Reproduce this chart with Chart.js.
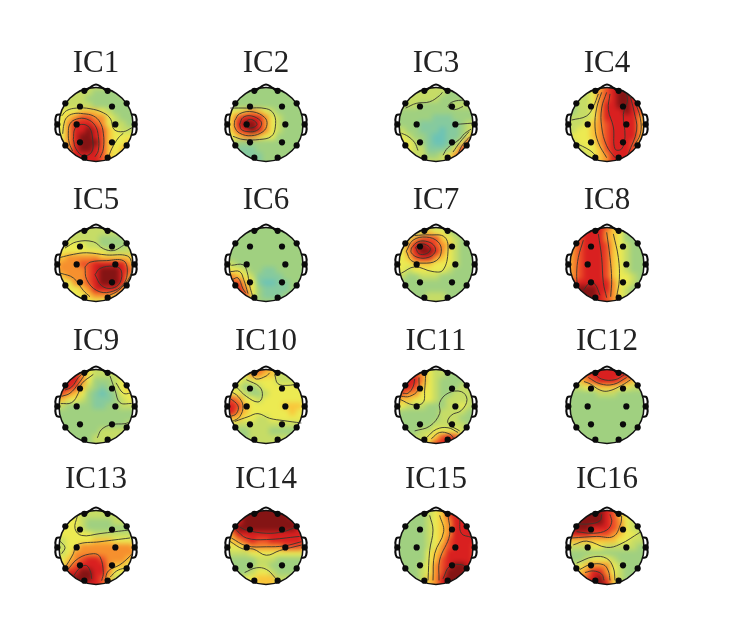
<!DOCTYPE html>
<html>
<head>
<meta charset="utf-8">
<title>IC scalp maps</title>
<script src="https://cdn.jsdelivr.net/npm/chart.js@4"></script>
<style>
html, body { margin: 0; padding: 0; background: #fff; }
#page { position: relative; width: 744px; height: 619px; overflow: hidden; }
#page canvas { position: absolute; }
</style>
</head>
<body>
<div id="page"></div>
<script>
/* 16 component scalp maps. Head units: radius about 111, centre 0,0 */

const TITLES = ["IC1","IC2","IC3","IC4","IC5","IC6","IC7","IC8","IC9","IC10","IC11","IC12","IC13","IC14","IC15","IC16"];

const ELECTRODE_X = [-35,35,-92,92,-48,48,-58,58,-116,116,-48,48,-92,92,-35,35];
const ELECTRODE_Y = [107,107,67,67,57,57,0,0,0,0,-57,-57,-67,-67,-106,-106];

const NOSE = [[-30,108],[-12,122],[0,127],[12,122],[30,108]];
const EAR_L = [[-108,32],[-118,30],[-122,15],[-120,0],[-122,-15],[-118,-30],[-108,-34]];
const EAR_R = [[108,32],[118,30],[122,15],[120,0],[122,-15],[118,-30],[108,-34]];

// colour levels, 0 = lowest (teal) .. 9 = highest (dark red)
const LEVEL_COLORS = ["#6cc3b6","#86ca9e","#a0d080","#c6dc66","#ecea52","#f9c53a","#f6902e","#ec4c28","#d92020","#841414"];

// grid columns run -120..120 and rows 120..-120 in steps of 20
const GRID_AXIS = [-120,-100,-80,-60,-40,-20,0,20,40,60,80,100,120];

const IC1_GRID = [
[3,3,3,3,3,3,3,3,3,3,3,3,3],[3,3,3,3,3,3,2,2,2,2,3,3,3],[3,3,3,3,3,2,2,2,2,2,2,3,3],[3,3,3,3,3,3,2,2,2,2,2,2,2],
[4,4,4,4,5,5,5,4,3,2,2,2,2],[4,4,5,6,7,7,6,6,4,3,2,2,2],[4,4,6,8,8,8,7,6,4,3,3,2,2],[4,4,6,8,8,9,8,7,5,4,3,3,3],
[4,4,6,8,9,9,8,7,5,4,4,4,4],[4,4,6,8,9,9,9,7,5,4,4,5,5],[4,5,6,8,9,9,8,7,5,4,5,6,6],[6,7,7,8,8,8,8,7,5,4,5,6,6],[8,8,8,8,8,8,8,7,5,5,5,5,5]];
const IC2_GRID = [
[2,2,2,2,2,2,2,2,2,2,2,2,2],[3,3,2,2,2,2,2,2,2,2,2,2,2],[2,2,2,2,2,2,2,2,2,2,2,2,2],[2,2,2,2,2,2,2,2,2,2,2,2,2],
[4,4,4,5,6,5,4,3,2,2,2,2,2],[4,5,7,8,8,8,6,4,3,2,2,2,2],[4,5,8,9,9,8,6,4,3,2,2,2,2],[4,5,7,8,9,8,6,4,3,2,2,2,2],
[4,4,5,6,6,5,4,4,2,2,2,2,2],[3,3,2,2,2,2,2,2,2,2,2,2,2],[2,2,1,1,1,2,2,2,2,2,2,2,2],[1,1,1,1,1,1,2,2,2,2,2,2,2],[1,1,1,1,1,1,2,2,2,2,2,2,2]];
const IC3_GRID = [
[3,3,3,3,3,3,3,3,3,2,2,2,2],[3,3,3,3,3,3,3,3,2,2,2,2,2],[3,3,3,3,3,3,3,2,2,2,2,3,3],[3,3,3,3,2,2,2,2,2,3,3,3,3],
[3,2,2,2,2,2,2,2,2,2,2,2,2],[2,2,2,2,2,2,1,1,1,2,2,2,2],[2,2,2,2,1,1,1,1,1,1,2,3,3],[3,3,2,2,1,1,1,0,1,1,2,3,4],
[3,4,3,2,2,1,0,0,1,1,2,4,7],[3,4,4,3,2,1,0,0,1,2,4,7,8],[3,4,4,3,3,1,1,1,2,4,7,8,8],[3,3,4,3,3,2,2,3,4,6,8,8,8],[3,3,3,3,3,3,3,3,4,6,8,8,8]];
const IC4_GRID = [
[2,2,3,3,4,5,7,8,8,8,8,8,8],[2,2,2,3,4,6,7,8,9,9,8,7,7],[2,2,3,3,4,6,7,8,9,9,8,7,6],[2,2,3,3,4,6,8,8,9,9,8,7,6],
[2,2,3,3,4,6,8,8,8,9,8,7,5],[3,3,3,3,4,6,8,8,8,8,8,6,5],[3,3,3,4,5,6,7,8,8,8,8,6,5],[3,3,4,4,5,6,7,8,8,8,8,6,5],
[3,4,4,4,5,6,7,8,8,8,8,6,5],[3,3,4,4,4,6,7,8,8,8,7,5,5],[3,3,3,4,4,5,7,8,8,8,7,6,5],[3,3,3,3,4,5,6,8,8,8,7,6,5],[3,3,3,3,4,5,6,8,8,8,7,6,5]];
const IC5_GRID = [
[3,3,3,3,3,3,3,3,3,3,3,3,3],[3,3,3,3,3,3,3,3,3,3,3,3,3],[3,3,3,3,3,3,3,2,2,2,2,3,3],[4,4,4,4,4,3,3,2,2,2,2,3,3],
[4,4,4,4,4,4,4,4,3,3,3,3,3],[5,5,6,6,6,6,6,5,5,5,5,5,4],[5,6,6,6,7,7,8,8,8,8,8,6,5],[5,6,6,6,6,7,8,9,9,9,8,7,5],
[4,5,6,6,6,7,8,9,9,9,8,6,5],[4,4,4,6,6,7,8,9,9,9,8,5,4],[4,4,4,4,5,6,8,8,8,8,6,5,4],[4,4,4,4,4,5,6,6,6,5,4,4,4],[4,4,4,4,4,4,4,4,4,4,4,4,4]];
const IC6_GRID = [
[2,2,2,2,2,2,2,2,2,2,2,2,2],[2,2,2,2,2,2,2,2,2,2,2,2,2],[2,2,2,2,2,2,2,2,2,2,2,2,2],[2,2,2,2,2,2,2,2,2,2,2,2,2],
[2,2,2,2,2,2,2,2,2,2,2,2,2],[2,2,2,2,2,2,2,2,2,2,2,2,2],[3,3,2,2,2,2,2,2,2,2,2,2,2],[4,4,4,3,2,2,1,1,2,2,2,2,2],
[6,6,5,4,3,1,1,1,1,2,2,2,2],[7,7,7,5,4,1,0,0,1,1,2,2,2],[8,8,8,6,4,2,1,1,1,1,2,2,2],[8,8,8,7,4,2,1,1,1,2,2,2,2],[8,8,7,6,3,2,2,2,2,2,2,2,2]];
const IC7_GRID = [
[3,3,3,3,3,3,3,3,3,2,2,2,2],[3,3,3,3,4,5,4,4,3,2,2,2,2],[3,3,4,6,7,7,7,5,4,3,2,2,2],[4,4,6,8,9,8,7,6,5,3,2,2,2],
[4,4,6,8,9,9,8,6,4,3,2,2,2],[4,4,5,7,8,8,6,5,4,3,2,2,2],[4,4,4,5,5,5,4,4,4,3,2,2,2],[4,4,3,4,4,4,4,4,3,2,2,2,2],
[3,3,2,2,3,3,3,2,2,2,2,2,2],[2,2,2,2,2,2,2,2,2,2,2,2,2],[2,2,2,2,2,2,2,2,2,2,2,2,2],[2,2,2,2,2,3,3,3,2,2,2,2,2],[2,2,2,2,2,3,3,3,2,2,2,2,2]];
const IC8_GRID = [
[5,6,7,8,8,8,7,5,4,3,2,2,2],[5,6,7,8,8,8,6,5,4,2,2,2,2],[5,6,7,8,8,8,6,5,4,2,2,2,2],[4,6,7,8,8,8,7,5,4,3,2,2,2],
[4,6,7,8,8,8,7,5,4,3,2,2,2],[4,6,7,8,8,8,7,5,4,3,2,2,2],[5,6,7,8,8,8,7,5,4,3,2,2,2],[5,6,7,8,8,8,7,5,4,3,2,2,2],
[5,6,7,8,8,8,7,5,4,4,3,2,2],[6,7,8,8,8,8,8,6,4,4,3,2,2],[7,8,9,9,9,8,8,6,4,3,2,2,2],[8,8,9,9,9,8,7,6,4,3,2,2,2],[8,8,9,9,9,8,7,6,4,3,2,2,2]];
const IC9_GRID = [
[6,7,7,6,5,4,3,3,3,3,3,3,3],[7,8,8,8,6,4,3,3,3,3,4,4,4],[8,8,8,8,6,4,2,2,2,3,4,5,5],[8,8,8,7,5,3,2,1,2,3,4,5,5],
[7,7,6,5,4,2,1,0,1,2,4,4,4],[5,5,4,4,3,2,1,1,1,2,3,4,4],[3,3,2,2,2,2,1,1,2,2,3,3,3],[2,2,2,2,2,2,2,2,2,2,2,2,2],
[2,2,2,2,2,2,2,2,2,2,2,2,2],[2,2,2,2,2,2,2,2,2,2,2,3,3],[2,2,2,2,2,2,2,3,3,3,3,3,3],[2,2,2,2,2,2,3,3,3,3,3,3,3],[2,2,2,2,2,2,3,3,3,3,3,3,3]];
const IC10_GRID = [
[3,3,3,3,6,7,6,5,4,3,3,3,3],[3,4,4,4,6,6,5,5,3,3,3,3,3],[3,4,4,3,4,4,4,4,3,3,3,3,3],[4,4,3,2,2,3,4,4,4,4,4,4,4],
[5,4,4,3,2,2,3,4,4,4,4,4,4],[7,7,6,4,4,3,4,4,4,4,4,4,4],[8,8,7,5,4,4,4,4,4,5,5,5,4],[8,8,6,5,4,4,4,4,4,4,5,4,4],
[5,5,5,4,4,3,3,4,4,4,4,4,4],[4,4,3,3,3,3,3,3,3,3,3,3,3],[2,2,2,2,3,3,3,2,2,2,2,2,2],[3,3,2,2,3,3,3,3,3,3,2,2,2],[3,3,2,2,3,3,3,3,3,3,2,2,2]];
const IC11_GRID = [
[4,5,6,6,5,4,3,3,3,3,3,3,3],[6,7,8,7,6,4,3,3,2,2,2,3,3],[8,8,8,8,6,4,3,2,2,2,2,3,3],[8,8,8,7,5,4,3,2,2,2,3,3,3],
[7,7,6,6,4,4,3,2,2,3,3,3,3],[6,5,5,4,4,4,3,2,3,3,3,3,3],[4,4,3,3,3,2,2,2,3,3,4,3,2],[3,2,2,2,2,2,2,3,3,3,3,2,2],
[2,2,2,2,2,2,2,3,3,3,2,2,2],[2,2,2,2,2,2,3,3,3,3,3,2,2],[2,2,2,2,3,3,4,4,4,4,3,3,2],[2,2,2,3,3,4,5,7,8,7,5,3,3],[2,2,2,3,3,5,7,8,8,8,6,4,3]];
const IC12_GRID = [
[5,6,7,8,8,8,8,8,8,8,7,6,5],[4,5,6,7,8,8,8,8,8,8,7,5,4],[3,4,5,6,7,8,8,8,7,6,5,4,3],[3,3,3,4,4,5,5,5,4,4,3,3,3],
[2,2,2,2,2,3,3,3,2,2,2,2,2],[2,2,2,2,2,2,2,2,2,2,2,2,2],[2,2,2,2,2,2,2,2,2,2,2,2,2],[2,2,2,2,2,2,2,2,2,2,2,2,2],
[2,2,2,2,2,2,2,2,2,2,2,2,2],[2,2,2,2,2,2,2,2,2,2,2,2,2],[2,2,2,2,2,2,2,2,2,2,2,2,2],[2,2,2,2,2,2,2,2,2,2,2,2,2],[2,2,2,2,2,2,2,2,2,2,2,2,2]];
const IC13_GRID = [
[4,4,4,4,4,3,3,3,3,3,3,4,4],[4,4,4,4,3,3,3,3,3,3,3,4,4],[4,4,4,4,3,2,2,2,2,3,3,3,3],[4,4,4,4,3,2,2,2,2,2,2,2,2],
[4,4,4,4,4,4,3,3,3,3,3,3,3],[3,3,4,4,4,4,5,5,5,4,4,4,4],[3,3,4,4,6,6,6,6,6,6,6,6,5],[4,3,4,6,6,6,6,6,6,6,6,6,6],
[4,4,5,6,7,8,8,7,6,6,6,5,5],[4,4,6,7,8,8,8,8,6,5,5,4,4],[5,6,8,8,9,9,8,8,6,4,4,3,3],[8,8,9,9,9,9,8,7,5,3,3,3,3],[8,9,9,9,9,8,8,7,5,4,3,3,3]];
const IC14_GRID = [
[7,8,8,8,9,9,9,9,9,8,8,8,7],[7,8,8,9,9,9,9,9,9,9,8,8,7],[8,8,8,9,9,9,9,9,9,9,9,8,7],[7,8,9,9,9,9,9,9,9,9,9,8,7],
[5,6,8,8,8,8,8,8,8,8,8,8,7],[4,5,6,7,8,7,7,8,8,8,8,8,7],[3,4,4,5,6,6,6,6,6,7,7,7,6],[3,3,3,3,4,4,4,4,4,4,4,4,4],
[2,2,2,2,2,3,3,3,2,2,2,2,2],[2,2,2,2,2,3,3,2,2,2,2,2,2],[3,3,2,2,3,4,4,3,2,2,2,2,2],[3,3,3,4,4,5,5,5,3,3,3,2,2],[3,3,3,4,4,5,5,5,4,3,3,3,3]];
const IC15_GRID = [
[2,2,2,3,3,3,4,5,7,8,8,8,8],[2,2,2,2,2,3,4,5,7,8,8,8,8],[2,2,2,2,2,3,4,5,6,8,8,8,8],[2,2,2,2,2,3,4,5,6,8,8,8,8],
[2,2,2,2,2,3,4,5,6,8,8,8,8],[2,2,2,2,2,3,4,5,7,8,8,8,8],[2,2,2,2,2,3,4,6,7,8,8,8,7],[2,2,2,2,2,4,5,6,8,8,8,8,7],
[2,2,2,2,2,4,5,7,8,8,8,8,7],[2,2,2,2,3,4,6,7,8,9,9,8,8],[2,2,2,2,3,4,6,7,9,9,9,8,8],[2,2,2,2,3,5,6,8,9,9,9,9,9],[2,2,2,2,3,5,6,8,9,9,9,9,9]];
const IC16_GRID = [
[8,8,9,9,9,9,8,7,5,4,4,3,3],[8,8,9,9,9,9,8,7,5,4,4,3,3],[8,8,9,9,9,9,8,7,6,4,3,3,3],[8,9,9,9,8,8,8,7,6,4,3,3,3],
[7,8,8,8,7,7,7,6,5,4,4,3,3],[5,5,5,5,5,5,5,5,4,4,3,3,3],[4,3,3,3,4,4,3,3,3,3,3,2,2],[2,2,2,2,2,2,2,2,2,2,2,2,2],
[2,2,2,3,4,4,4,3,2,2,2,2,2],[3,3,4,5,6,6,6,4,3,2,2,2,2],[3,3,5,6,8,8,6,4,3,2,2,2,2],[3,3,5,7,8,9,7,5,3,2,2,2,2],[4,5,7,8,9,9,8,5,3,3,3,3,3]];

// contour lines
const IC1_LINES = [
[[-103,27],[-88,44],[-58,52],[-18,50],[22,37],[44,17],[54,-16],[82,-23],[109,-10]],
[[-100,-30],[-96,2],[-88,22],[-68,34],[-38,34],[-8,27],[12,7],[22,-28],[22,-78],[12,-106]],
[[-70,-85],[-80,-60],[-83,-28],[-78,2],[-58,17],[-28,17],[-3,-3],[7,-38],[7,-83],[-3,-103]],
[[-68,-48],[-63,-13],[-43,0],[-20,-10],[-10,-48],[-13,-88],[-38,-100],[-60,-78],[-68,-48]],
[[37,-106],[47,-78],[67,-43],[82,-28]]];
const IC2_LINES = [
[[-107,52],[-59,52],[1,50],[24,32],[28,-8],[16,-38],[-19,-48],[-69,-48],[-99,-38]],
[[-94,12],[-79,34],[-39,40],[-4,22],[3,0],[-9,-23],[-44,-36],[-79,-28],[-94,-8],[-94,12]],
[[-79,0],[-69,22],[-44,27],[-17,12],[-14,-3],[-29,-20],[-54,-23],[-74,-16],[-79,0]],
[[-67,0],[-54,14],[-39,14],[-27,0],[-39,-10],[-54,-10],[-67,0]]];
const IC3_LINES = [
[[-91,52],[-59,67],[-19,72],[11,92],[19,102]],
[[89,72],[76,77],[46,70],[36,57],[39,54],[56,47],[81,57]],
[[59,0],[109,4]],
[[21,-98],[35,-75],[70,-48],[85,-30],[105,-15]],
[[51,-88],[71,-58],[99,-23]],
[[66,-93],[81,-63],[103,-38]],
[[-104,-28],[-84,-38],[-64,-58],[-54,-83]]];
const IC4_LINES = [
[[-106,14],[-61,27],[-41,57],[-26,97]],
[[-96,-58],[-51,-83],[-31,-103]],
[[-16,102],[-31,52],[-36,-8],[-26,-58],[-1,-106]],
[[-1,102],[-16,52],[-16,-8],[-1,-68],[24,-106]],
[[9,97],[4,47],[19,-8],[24,-78],[44,-78],[54,-38],[49,32],[61,72],[59,97]],
[[69,92],[81,42],[89,-18],[64,-93]],
[[84,72],[100,20],[100,-30],[80,-70]]];
const IC5_LINES = [
[[-93,52],[-58,72],[-8,72],[22,50],[52,44],[77,57],[90,67]],
[[-108,22],[-68,32],[-28,37],[32,30],[94,27],[107,2],[102,-38],[67,-83],[37,-100]],
[[-106,-28],[-68,-43],[-38,-83],[-18,-103]],
[[-33,-8],[-18,7],[32,12],[82,12],[94,-18],[82,-63],[42,-88],[2,-83],[-28,-48],[-33,-8]],
[[-3,-33],[12,-13],[52,-6],[75,-18],[72,-58],[47,-76],[17,-68],[-3,-33]]];
const IC6_LINES = [
[[-104,-3],[-69,-1],[-57,-23],[-49,-68],[-41,-98]],
[[-107,-23],[-79,-23],[-67,-48],[-54,-93]],
[[-101,-48],[-84,-43],[-69,-78],[-61,-90]]];
const IC7_LINES = [
[[-64,92],[-19,94],[26,87],[36,42],[21,-18],[-9,-23],[-64,-8],[-104,-28]],
[[-89,42],[-69,77],[-29,87],[6,72],[16,42],[1,12],[-39,4],[-74,12],[-89,42]],
[[-74,52],[-54,72],[-24,72],[-4,57],[-4,37],[-24,22],[-54,22],[-74,37],[-74,52]],
[[-61,54],[-44,65],[-24,59],[-17,47],[-29,34],[-51,34],[-61,54]]];
const IC8_LINES = [
[[-71,77],[-86,22],[-91,-28],[-89,-68]],
[[-26,97],[-16,22],[-11,-58],[-1,-106]],
[[-1,102],[9,22],[14,-48],[11,-103]],
[[19,97],[34,22],[37,-48],[29,-103]],
[[-71,-83],[-51,-58],[-36,-63],[-21,-98]]];
const IC9_LINES = [
[[-106,9],[-73,12],[-53,42],[-43,72],[-8,102]],
[[-103,32],[-78,42],[-53,72],[-33,102]],
[[-93,52],[-73,62],[-53,92],[-43,102]],
[[42,97],[57,52],[72,12],[107,9]],
[[60,75],[82,42],[104,42]],
[[4,-100],[17,-73],[47,-58],[87,-55],[97,-51]]];
const IC10_LINES = [
[[-59,85],[-19,62],[-11,32],[-24,14],[-59,32],[-89,62]],
[[26,102],[36,72],[66,67],[96,72]],
[[-44,102],[-29,87],[1,97],[11,107]],
[[-104,47],[-84,32],[-69,2],[-79,-33],[-101,-48]],
[[-109,27],[-84,2],[-89,-23],[-109,-33]],
[[-94,-48],[-54,-33],[-24,-23],[11,-38],[51,-45],[106,-53]]];
const IC11_LINES = [
[[-31,102],[-34,52],[-39,12],[-69,5],[-107,22]],
[[-51,92],[-54,52],[-79,32],[-104,32]],
[[-64,87],[-69,62],[-84,42],[-99,42]],
[[-64,-78],[-19,-63],[11,-23],[11,12],[36,42],[76,47],[93,22],[76,-13],[46,-28],[36,-53],[71,-78]],
[[-29,-100],[1,-73],[36,-68],[66,-83]],
[[-14,-103],[11,-83],[41,-88],[53,-101]]];
const IC12_LINES = [
[[-69,79],[-51,72],[-21,52],[4,49],[44,67],[71,85]],
[[-56,92],[-21,72],[19,70],[59,92]],
[[-41,107],[-16,87],[24,85],[54,102]]];
const IC13_LINES = [
[[-56,100],[-63,60],[-43,38],[12,44],[57,50],[97,55]],
[[-108,20],[-93,0],[-103,-20]],
[[-96,-70],[-68,-20],[-58,8],[12,18],[102,30]],
[[-88,-75],[-53,-35],[-8,-20],[12,-30],[22,-80],[17,-106]],
[[-68,-92],[-48,-65],[-28,-58],[-16,-80],[-13,-100]],
[[27,-105],[37,-75],[72,-55],[100,-30],[108,-20]],
[[42,-95],[62,-75],[87,-65]]];
const IC14_LINES = [
[[-79,65],[-59,55],[1,45],[51,50],[91,65]],
[[-89,55],[-59,30],[1,25],[101,35]],
[[-104,30],[-59,5],[1,2],[56,5],[106,18]],
[[-109,20],[-69,-5],[-39,-5],[1,-25],[41,-10],[108,8]],
[[-64,-80],[-29,-65],[1,-70],[26,-95],[31,-105]]];
const IC15_LINES = [
[[-19,102],[-9,55],[-19,-10],[-24,-105]],
[[11,102],[23,50],[-4,-20],[-9,-105]],
[[36,102],[41,40],[11,-40],[9,-105]],
[[71,92],[76,45],[106,32]],
[[21,-100],[41,-60],[76,-55],[93,-65]]];
const IC16_LINES = [
[[-91,75],[-51,75],[-21,85],[-16,105]],
[[-91,50],[-41,45],[-1,55],[14,80],[9,105]],
[[-106,30],[-31,35],[19,35],[41,75],[44,100]],
[[-101,8],[-61,20],[-1,0],[39,10],[99,48]],
[[-91,-50],[-41,-30],[-1,-35],[19,-65],[24,-105]],
[[-81,-70],[-51,-55],[-11,-55],[4,-75],[9,-105]],
[[-66,-80],[-41,-75],[-16,-85],[-9,-105]]];

const GRIDS = [IC1_GRID,IC2_GRID,IC3_GRID,IC4_GRID,IC5_GRID,IC6_GRID,IC7_GRID,IC8_GRID,IC9_GRID,IC10_GRID,IC11_GRID,IC12_GRID,IC13_GRID,IC14_GRID,IC15_GRID,IC16_GRID];
const LINES = [IC1_LINES,IC2_LINES,IC3_LINES,IC4_LINES,IC5_LINES,IC6_LINES,IC7_LINES,IC8_LINES,IC9_LINES,IC10_LINES,IC11_LINES,IC12_LINES,IC13_LINES,IC14_LINES,IC15_LINES,IC16_LINES];

// page layout
const COL_CENTERS = [96, 266, 436, 607];
const ROW_CENTERS = [127, 267, 409, 550];
const TITLE_PAD_TOP = [26, 23, 22, 19];
const HEAD_RADIUS = 111;

// smooths the cell squares and trims them to the head circle
const headPlugin = {
    id: 'headPlugin',
    afterDatasetDraw(chart, args) {
        if (args.index !== 0) return;
        const ctx = chart.ctx;
        const a = chart.chartArea;
        const cx = chart.scales.x.getPixelForValue(0);
        const cy = chart.scales.y.getPixelForValue(0);
        const r = chart.scales.x.getPixelForValue(HEAD_RADIUS) - cx;

        ctx.save();
        ctx.beginPath();
        ctx.arc(cx, cy, r, 0, Math.PI * 2);
        ctx.clip();
        ctx.filter = 'blur(2.4px)';
        ctx.drawImage(chart.canvas, 0, 0);
        ctx.restore();

        ctx.save();
        ctx.beginPath();
        ctx.rect(a.left, a.top, a.right - a.left, a.bottom - a.top);
        ctx.arc(cx, cy, r, 0, Math.PI * 2);
        ctx.fillStyle = '#fff';
        ctx.fill('evenodd');
        ctx.beginPath();
        ctx.arc(cx, cy, r, 0, Math.PI * 2);
        ctx.lineWidth = 1.5;
        ctx.strokeStyle = '#111';
        ctx.stroke();
        ctx.restore();
    }
};

function toPoints(list) {
    return list.map(p => ({ x: p[0], y: p[1] }));
}

function buildDatasets(i) {
    const cells = [];
    const colors = [];
    GRIDS[i].forEach((row, r) => {
        row.forEach((v, c) => {
            cells.push({ x: GRID_AXIS[c], y: GRID_AXIS[12 - r] });
            colors.push(LEVEL_COLORS[v]);
        });
    });

    const datasets = [{
        data: cells,
        pointStyle: 'rect',
        pointRadius: 5.2,
        pointBorderWidth: 0,
        pointBackgroundColor: colors,
        showLine: false,
        order: 100
    }];

    LINES[i].forEach(line => {
        datasets.push({
            data: toPoints(line),
            showLine: true,
            tension: 0.4,
            borderColor: 'rgba(55,55,45,0.9)',
            borderWidth: 1,
            pointRadius: 0,
            order: 50
        });
    });

    [NOSE, EAR_L, EAR_R].forEach(part => {
        datasets.push({
            data: toPoints(part),
            showLine: true,
            tension: 0.2,
            borderColor: '#0c0c0c',
            borderWidth: 2.1,
            pointRadius: 0,
            order: 20
        });
    });

    datasets.push({
        data: ELECTRODE_X.map((x, k) => ({ x: x, y: ELECTRODE_Y[k] })),
        showLine: false,
        pointStyle: 'circle',
        pointRadius: 3.1,
        pointBorderWidth: 0,
        pointBackgroundColor: '#0a0a0a',
        order: 1
    });
    return datasets;
}

const page = document.getElementById('page');

TITLES.forEach((name, i) => {
    const col = i % 4;
    const row = Math.floor(i / 4);
    const canvas = document.createElement('canvas');
    canvas.width = 170;
    canvas.height = 150;
    canvas.style.left = (COL_CENTERS[col] - 85) + 'px';
    canvas.style.top = (ROW_CENTERS[row] - 105) + 'px';
    page.appendChild(canvas);

    new Chart(canvas.getContext('2d'), {
        type: 'scatter',
        data: { datasets: buildDatasets(i) },
        plugins: [headPlugin],
        options: {
            responsive: false,
            animation: false,
            devicePixelRatio: 1,
            layout: { padding: { left: 40, right: 40, top: 0, bottom: 0 } },
            plugins: {
                legend: { display: false },
                tooltip: { enabled: false },
                title: {
                    display: true,
                    text: name,
                    color: '#222',
                    font: { family: '"Liberation Serif", serif', size: 31, weight: 'normal', lineHeight: 1 },
                    padding: { top: TITLE_PAD_TOP[row], bottom: 29 - TITLE_PAD_TOP[row] }
                }
            },
            scales: {
                x: { type: 'linear', display: false, min: -135, max: 135 },
                y: { type: 'linear', display: false, min: -135, max: 135 }
            }
        }
    });
});
</script>
</body>
</html>
